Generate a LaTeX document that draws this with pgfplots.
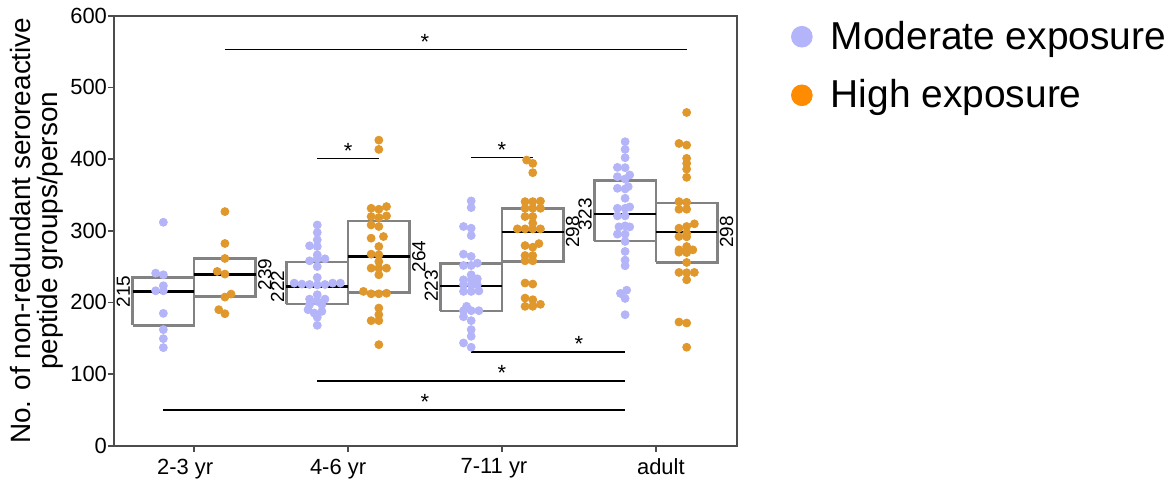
\documentclass[border=0pt]{standalone}
\usepackage{pgfplots}
\pgfplotsset{compat=1.18}
\usepackage{fontspec}
\setmainfont{Liberation Sans}
\definecolor{modc}{RGB}{180,180,248}
\definecolor{highc}{RGB}{224,152,44}
\definecolor{legmod}{RGB}{180,180,250}
\definecolor{leghigh}{RGB}{255,140,0}
\definecolor{boxc}{RGB}{130,130,130}
\begin{document}
\begin{tikzpicture}
\begin{axis}[
    width=312pt, height=215.5pt, scale only axis,
    xmin=0.4815, xmax=4.526, ymin=0, ymax=600,
    xtick={1,2,3,4},
    xticklabels={2-3 yr\hspace*{9pt}, 4-6 yr\hspace*{10pt}, 7-11 yr\hspace*{8pt}, \hspace*{5pt}adult},
    ytick={0,100,...,600},
    xtick pos=bottom, ytick pos=left,
    tick align=outside, major tick length=3pt,
    tick style={black!70, line width=0.8pt},
    axis line style={black!70, line width=0.9pt},
    ticklabel style={font=\fontsize{11}{12}\selectfont},
    yticklabel style={inner sep=0.5pt},
    /pgf/number format/assume math mode=true,
    ylabel={No. of non-redundant seroreactive\\peptide groups/person},
    ylabel style={align=center, font=\fontsize{14}{13.5}\selectfont, inner sep=0pt},
    ylabel shift=3pt,
    legend style={at={(1.0865,0.993)}, anchor=north west, draw=none, inner sep=0pt,
        font=\fontsize{19.5}{22}\selectfont, row sep=11.7pt,
        nodes={inner sep=1pt}},
    legend cell align=left,
    clip=false,
]
% legend images
\addlegendimage{legend image code/.code={\fill[legmod] (0pt,0pt) circle (5.2pt); \path[draw=none] (-5.2pt,0pt) (13.5pt,0pt);}}
\addlegendentry{Moderate exposure}
\addlegendimage{legend image code/.code={\fill[leghigh] (0pt,0pt) circle (5.2pt); \path[draw=none] (-5.2pt,0pt) (13.5pt,0pt);}}
\addlegendentry{High exposure}

% moderate exposure points
\addplot[only marks, mark=*, mark size=2pt, color=modc, forget plot] coordinates {
(0.8,311.8) (0.75,240.8) (0.8,238.5) (0.8,223.2) (0.75,216.2) (0.8,216.2)
(0.8,184.7) (0.8,162) (0.8,149.4) (0.8,136.9)
(1.8,308) (1.8,297.5) (1.8,287.3) (1.75,279) (1.8,278) (1.8,266.4) (1.75,258)
(1.85,260.8) (1.8,260.8) (1.8,250) (1.8,234.8) (1.65,226.9) (1.7,225.5)
(1.75,225) (1.8,224.5) (1.85,225) (1.9,226.9) (1.95,226.9) (1.8,210.7)
(1.75,204.6) (1.85,204.6) (1.8,201.4) (1.75,196.8) (1.83,196.8) (1.74,189.8)
(1.83,187.5) (1.78,185.2) (1.8,179.1) (1.8,168)
(2.8,341.6) (2.8,332.3) (2.75,305.9) (2.8,303.5) (2.8,293.3) (2.75,267.3)
(2.8,264.1) (2.75,251.5) (2.8,251.5) (2.84,254.8) (2.8,238.5) (2.75,231.5)
(2.8,231.5) (2.84,232.9) (2.75,224.6) (2.8,224.6) (2.84,224.6) (2.75,215.3)
(2.8,215.3) (2.85,216) (2.77,194.5) (2.75,188.4) (2.8,188.4) (2.85,188.4)
(2.75,180) (2.8,174.5) (2.8,162) (2.8,152.7) (2.75,143.4) (2.8,137.4)
(3.8,424.2) (3.8,413.5) (3.8,401.9) (3.75,388.4) (3.8,388) (3.75,375.4)
(3.8,372.2) (3.83,377.8) (3.82,361.5) (3.75,359.2) (3.8,358.3) (3.8,345.3)
(3.75,331.3) (3.8,331.3) (3.83,333.2) (3.75,320.7) (3.8,320.7) (3.8,306.8)
(3.76,305.4) (3.83,305.4) (3.75,295.2) (3.8,295.2) (3.8,285) (3.8,271.1)
(3.8,259) (3.8,251.1) (3.77,212.5) (3.81,217) (3.8,205.5) (3.8,182.8)
};

% high exposure points
\addplot[only marks, mark=*, mark size=2pt, color=highc, forget plot] coordinates {
(1.2,326.7) (1.2,282.2) (1.2,261.3) (1.15,243.2) (1.2,239.5) (1.24,211.6)
(1.2,207.4) (1.16,189.8) (1.2,184.2)
(2.2,426.4) (2.2,413.5) (2.15,331.3) (2.2,330) (2.25,333.7) (2.15,319.8)
(2.2,318.4) (2.25,320.7) (2.15,308) (2.2,305.9) (2.15,289.6) (2.23,291.9)
(2.2,278) (2.15,267.3) (2.2,266.4) (2.2,257) (2.15,247.8) (2.2,247.8)
(2.25,247.8) (2.2,238.5) (2.1,215.3) (2.15,212) (2.2,212) (2.25,212.8)
(2.2,192.1) (2.2,182.8) (2.15,174.5) (2.2,174.5) (2.2,141)
(3.16,398.6) (3.2,394) (3.2,381) (3.15,340.6) (3.2,340.6) (3.25,341.3)
(3.15,331.3) (3.2,331.3) (3.25,331.3) (3.15,319.8) (3.2,319.8) (3.2,310.5)
(3.1,302.6) (3.15,302.6) (3.2,302.6) (3.25,302.6) (3.15,279.3) (3.2,277)
(3.24,282) (3.15,265.4) (3.2,265.4) (3.15,258) (3.2,258) (3.15,227)
(3.2,225.6) (3.15,206) (3.2,203.7) (3.15,194.5) (3.2,194.5) (3.25,197.3)
(4.2,465) (4.15,421.8) (4.2,419.5) (4.2,401) (4.2,394) (4.2,386) (4.2,374.5)
(4.15,340.6) (4.2,339.7) (4.15,330) (4.2,330) (4.25,309.6) (4.2,305.9)
(4.15,303.5) (4.2,296.5) (4.15,291.9) (4.2,291.5) (4.2,278) (4.15,273.3)
(4.2,273.3) (4.24,273.3) (4.15,270) (4.2,269.5) (4.2,255.7) (4.15,241.8)
(4.2,241.4) (4.25,241.8) (4.2,231.5) (4.15,172.6) (4.2,171.2) (4.2,137.4)
};

% interquartile boxes
\addplot[boxc, line width=1.25pt, forget plot] coordinates {(0.6,168) (1.0,168) (1.0,234.8) (0.6,234.8) (0.6,168)};
\addplot[boxc, line width=1.25pt, forget plot] coordinates {(1.0,208) (1.4,208) (1.4,261) (1.0,261) (1.0,208)};
\addplot[boxc, line width=1.25pt, forget plot] coordinates {(1.6,198) (2.0,198) (2.0,256.6) (1.6,256.6) (1.6,198)};
\addplot[boxc, line width=1.25pt, forget plot] coordinates {(2.0,214) (2.4,214) (2.4,313.7) (2.0,313.7) (2.0,214)};
\addplot[boxc, line width=1.25pt, forget plot] coordinates {(2.6,188) (3.0,188) (3.0,254) (2.6,254) (2.6,188)};
\addplot[boxc, line width=1.25pt, forget plot] coordinates {(3.0,257) (3.4,257) (3.4,331) (3.0,331) (3.0,257)};
\addplot[boxc, line width=1.25pt, forget plot] coordinates {(3.6,285.5) (4.0,285.5) (4.0,370) (3.6,370) (3.6,285.5)};
\addplot[boxc, line width=1.25pt, forget plot] coordinates {(4.0,255.7) (4.4,255.7) (4.4,339) (4.0,339) (4.0,255.7)};

% medians
\addplot[black, line width=1.25pt, forget plot] coordinates {(0.6,215) (1.0,215)};
\addplot[black, line width=1.25pt, forget plot] coordinates {(1.0,239) (1.4,239)};
\addplot[black, line width=1.25pt, forget plot] coordinates {(1.6,222) (2.0,222)};
\addplot[black, line width=1.25pt, forget plot] coordinates {(2.0,264) (2.4,264)};
\addplot[black, line width=1.25pt, forget plot] coordinates {(2.6,223) (3.0,223)};
\addplot[black, line width=1.25pt, forget plot] coordinates {(3.0,298) (3.4,298)};
\addplot[black, line width=1.25pt, forget plot] coordinates {(3.6,323) (4.0,323)};
\addplot[black, line width=1.25pt, forget plot] coordinates {(4.0,298) (4.4,298)};

\begin{scope}[every node/.style={font=\fontsize{9.5}{10}\selectfont, rotate=90, inner sep=1pt}]
\node[anchor=south] at (axis cs:0.6,215) {215};
\node[anchor=north] at (axis cs:1.4,239) {239};
\node[anchor=south] at (axis cs:1.6,222) {222};
\node[anchor=north] at (axis cs:2.4,264) {264};
\node[anchor=south] at (axis cs:2.6,223) {223};
\node[anchor=north] at (axis cs:3.4,298) {298};
\node[anchor=south] at (axis cs:3.6,323) {323};
\node[anchor=north] at (axis cs:4.4,298) {298};
\end{scope}

% significance brackets
\addplot[black, line width=0.8pt, forget plot] coordinates {(1.2,552.7) (4.2,552.7)};
\addplot[black, line width=0.8pt, forget plot] coordinates {(1.8,401) (2.2,401)};
\addplot[black, line width=0.8pt, forget plot] coordinates {(2.8,402) (3.2,402)};
\addplot[black, line width=0.8pt, forget plot] coordinates {(2.8,130.9) (3.8,130.9)};
\addplot[black, line width=0.8pt, forget plot] coordinates {(1.8,90.5) (3.8,90.5)};
\addplot[black, line width=0.8pt, forget plot] coordinates {(0.8,50) (3.8,50)};
\begin{scope}[every node/.style={font=\fontsize{11}{12}\selectfont, anchor=base, inner sep=0pt}]
\node at (axis cs:2.5,552.7) {*};
\node at (axis cs:2.0,401) {*};
\node at (axis cs:3.0,402) {*};
\node at (axis cs:3.5,130.9) {*};
\node at (axis cs:3.0,90.5) {*};
\node at (axis cs:2.5,50) {*};
\end{scope}
\end{axis}
\path (current bounding box.north west) ++(-5pt,3.5pt) (current bounding box.south east) ++(3pt,0pt);
\end{tikzpicture}
\end{document}
